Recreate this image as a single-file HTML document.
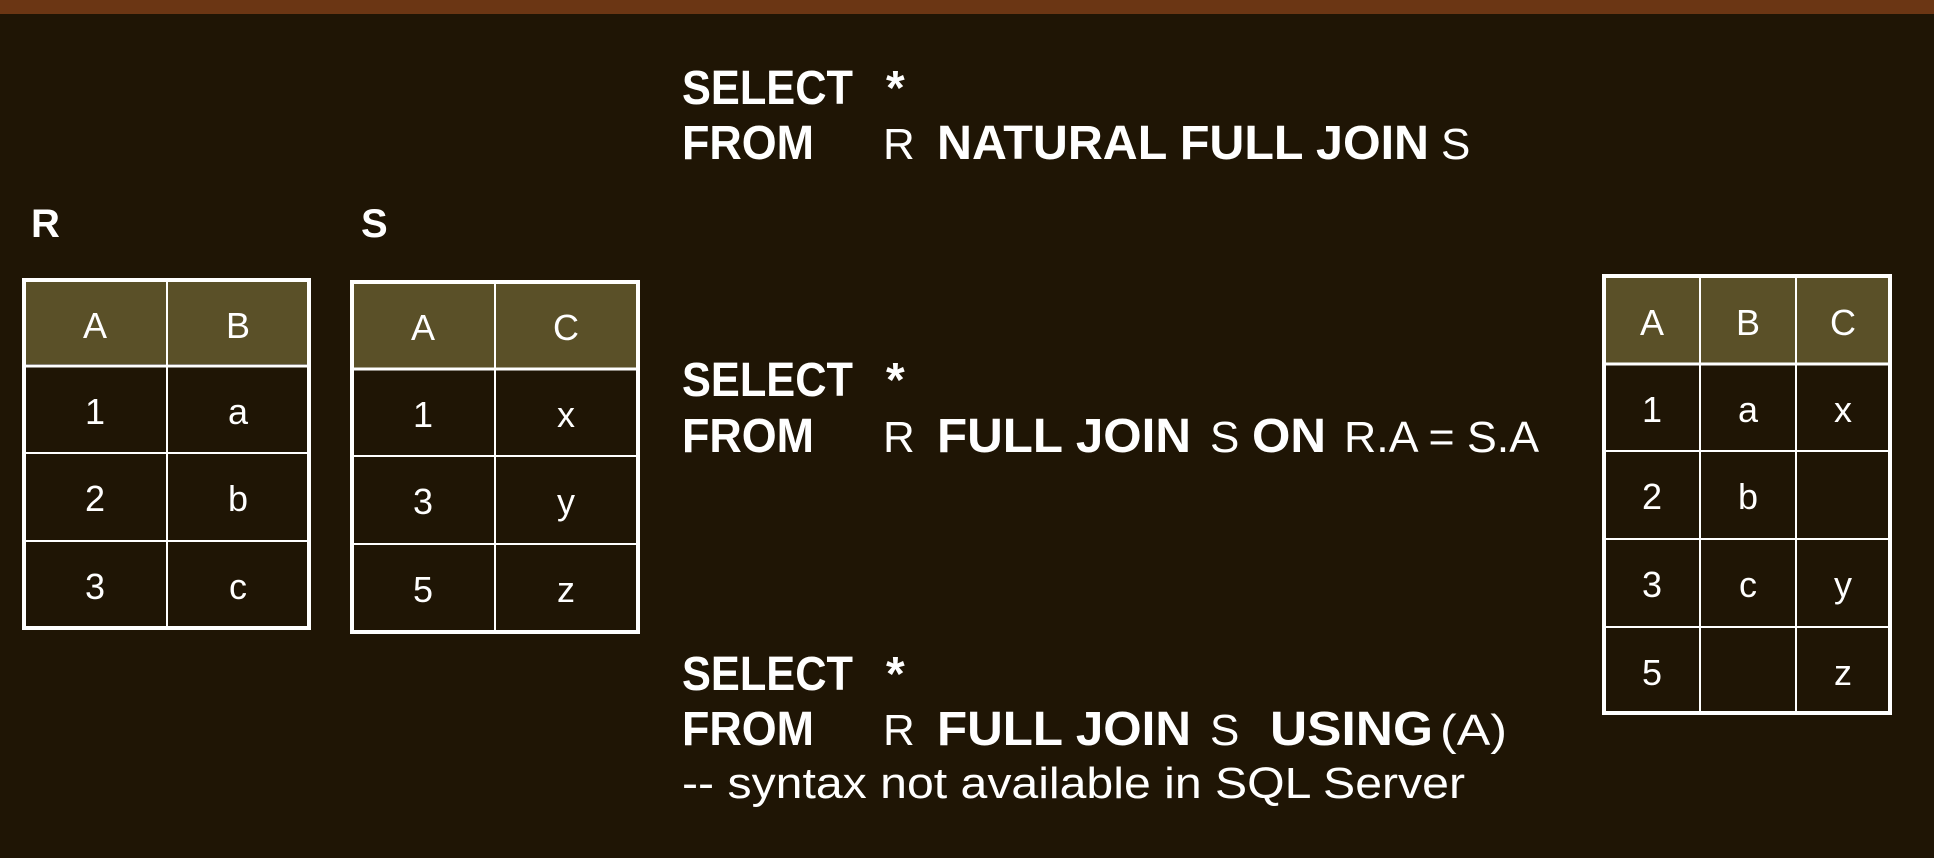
<!DOCTYPE html>
<html><head><meta charset="utf-8"><style>
html,body{margin:0;padding:0;background:#1f1505;}
svg{display:block}
text{font-family:"Liberation Sans",sans-serif;fill:#fff}
.b{font-weight:bold;font-size:48px}
.c{font-size:36px}
.n{font-size:44px}
</style></head><body>
<svg width="1934" height="858" viewBox="0 0 1934 858" xmlns="http://www.w3.org/2000/svg">
<rect x="0" y="0" width="1934" height="858" fill="#1f1505"/>
<rect x="0" y="0" width="1934" height="14" fill="#6b3614"/>

<!-- labels -->
<text class="b" x="31" y="237" font-size="40" style="font-size:40px">R</text>
<text class="b" x="361" y="237" style="font-size:40px">S</text>

<!-- R table -->
<g stroke="#fff" fill="none">
<rect x="24" y="280" width="285" height="84" fill="#5a5028" stroke="none"/>
<rect x="24" y="280" width="285" height="348" stroke-width="4"/>
<line x1="167" y1="280" x2="167" y2="628" stroke-width="2"/>
<line x1="24" y1="366" x2="309" y2="366" stroke-width="3"/>
<line x1="24" y1="453" x2="309" y2="453" stroke-width="2"/>
<line x1="24" y1="541" x2="309" y2="541" stroke-width="2"/>
</g>
<g class="c" text-anchor="middle">
<text class="c" x="95" y="338">A</text><text class="c" x="238" y="338">B</text>
<text class="c" x="95" y="424">1</text><text class="c" x="238" y="424">a</text>
<text class="c" x="95" y="511">2</text><text class="c" x="238" y="511">b</text>
<text class="c" x="95" y="599">3</text><text class="c" x="238" y="599">c</text>
</g>

<!-- S table -->
<g stroke="#fff" fill="none">
<rect x="352" y="282" width="286" height="86" fill="#5a5028" stroke="none"/>
<rect x="352" y="282" width="286" height="350" stroke-width="4"/>
<line x1="495" y1="282" x2="495" y2="632" stroke-width="2"/>
<line x1="352" y1="369" x2="638" y2="369" stroke-width="3"/>
<line x1="352" y1="456" x2="638" y2="456" stroke-width="2"/>
<line x1="352" y1="544" x2="638" y2="544" stroke-width="2"/>
</g>
<g text-anchor="middle">
<text class="c" x="423" y="340">A</text><text class="c" x="566" y="340">C</text>
<text class="c" x="423" y="427">1</text><text class="c" x="566" y="427">x</text>
<text class="c" x="423" y="514">3</text><text class="c" x="566" y="514">y</text>
<text class="c" x="423" y="602">5</text><text class="c" x="566" y="602">z</text>
</g>

<!-- Result table -->
<g stroke="#fff" fill="none">
<rect x="1604" y="276" width="286" height="87" fill="#5a5028" stroke="none"/>
<rect x="1604" y="276" width="286" height="437" stroke-width="4"/>
<line x1="1700" y1="276" x2="1700" y2="713" stroke-width="2"/>
<line x1="1796" y1="276" x2="1796" y2="713" stroke-width="2"/>
<line x1="1604" y1="364" x2="1890" y2="364" stroke-width="3"/>
<line x1="1604" y1="451" x2="1890" y2="451" stroke-width="2"/>
<line x1="1604" y1="539" x2="1890" y2="539" stroke-width="2"/>
<line x1="1604" y1="627" x2="1890" y2="627" stroke-width="2"/>
</g>
<g text-anchor="middle">
<text class="c" x="1652" y="335">A</text><text class="c" x="1748" y="335">B</text><text class="c" x="1843" y="335">C</text>
<text class="c" x="1652" y="422">1</text><text class="c" x="1748" y="422">a</text><text class="c" x="1843" y="422">x</text>
<text class="c" x="1652" y="509">2</text><text class="c" x="1748" y="509">b</text>
<text class="c" x="1652" y="597">3</text><text class="c" x="1748" y="597">c</text><text class="c" x="1843" y="597">y</text>
<text class="c" x="1652" y="685">5</text><text class="c" x="1843" y="685">z</text>
</g>

<!-- Query 1 -->
<text class="b" x="682" y="104" textLength="171" lengthAdjust="spacingAndGlyphs">SELECT</text>
<text class="b" x="886" y="104">*</text>
<text class="b" x="682" y="159" textLength="132" lengthAdjust="spacingAndGlyphs">FROM</text>
<text class="n" x="883" y="159">R</text>
<text class="b" x="937" y="159" textLength="492" lengthAdjust="spacingAndGlyphs">NATURAL FULL JOIN</text>
<text class="n" x="1441" y="159">S</text>

<!-- Query 2 -->
<text class="b" x="682" y="396" textLength="171" lengthAdjust="spacingAndGlyphs">SELECT</text>
<text class="b" x="886" y="396">*</text>
<text class="b" x="682" y="452" textLength="132" lengthAdjust="spacingAndGlyphs">FROM</text>
<text class="n" x="883" y="452">R</text>
<text class="b" x="937" y="452" textLength="254" lengthAdjust="spacingAndGlyphs">FULL JOIN</text>
<text class="n" x="1210" y="452">S</text>
<text class="b" x="1252" y="452" textLength="74" lengthAdjust="spacingAndGlyphs">ON</text>
<text class="n" x="1344" y="452" textLength="195" lengthAdjust="spacingAndGlyphs">R.A = S.A</text>

<!-- Query 3 -->
<text class="b" x="682" y="690" textLength="171" lengthAdjust="spacingAndGlyphs">SELECT</text>
<text class="b" x="886" y="690">*</text>
<text class="b" x="682" y="745" textLength="132" lengthAdjust="spacingAndGlyphs">FROM</text>
<text class="n" x="883" y="745">R</text>
<text class="b" x="937" y="745" textLength="254" lengthAdjust="spacingAndGlyphs">FULL JOIN</text>
<text class="n" x="1210" y="745">S</text>
<text class="b" x="1270" y="745" textLength="163" lengthAdjust="spacingAndGlyphs">USING</text>
<text class="n" x="1440" y="745" textLength="67" lengthAdjust="spacingAndGlyphs">(A)</text>
<text class="n" x="682" y="798" textLength="783" lengthAdjust="spacingAndGlyphs">-- syntax not available in SQL Server</text>
</svg>
</body></html>
